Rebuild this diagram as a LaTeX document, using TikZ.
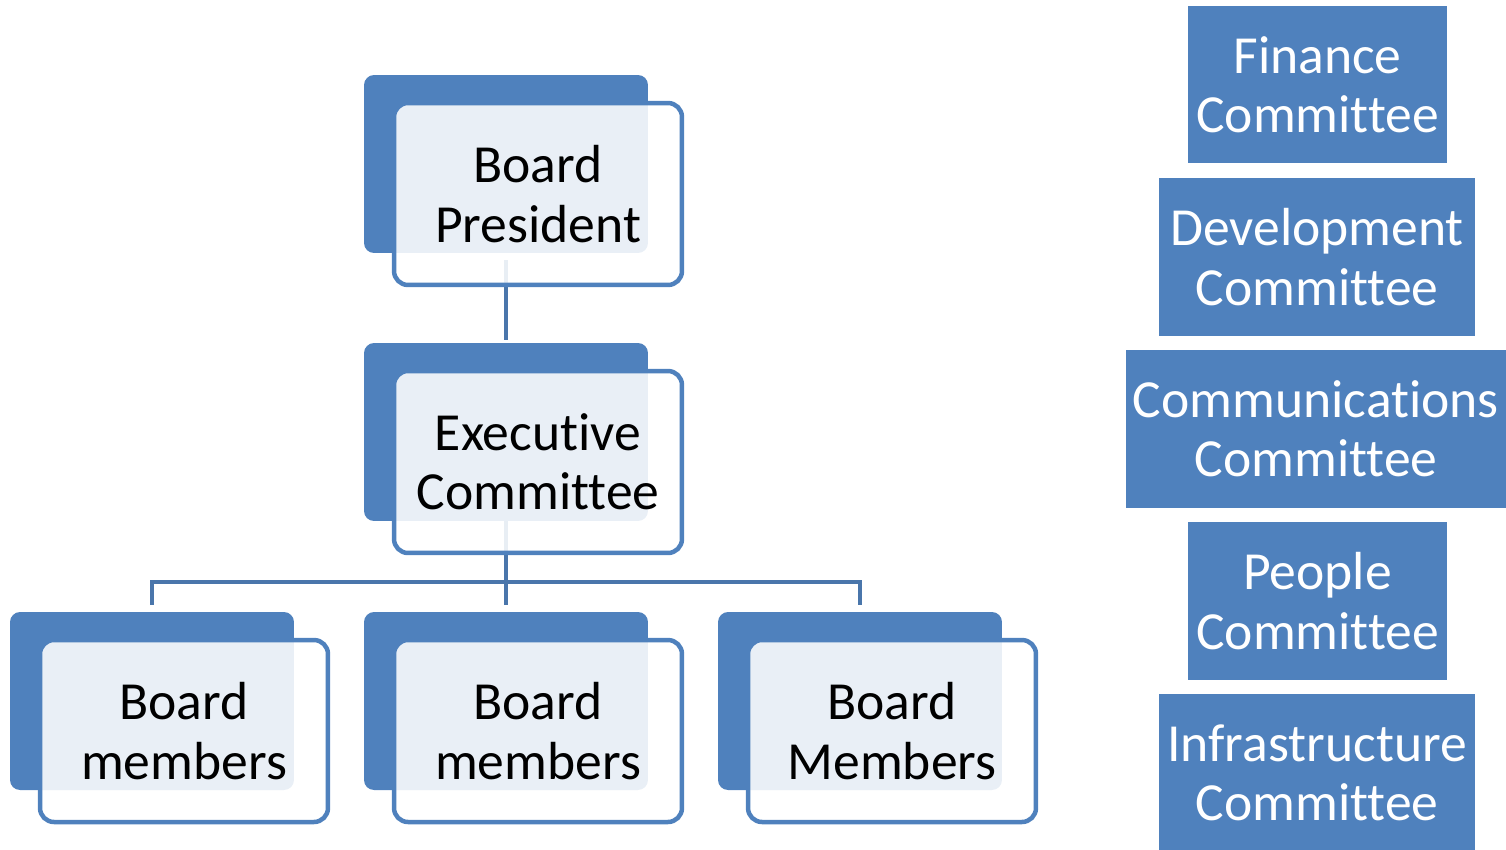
\documentclass[tikz,border=0pt]{standalone}
\usepackage{fontspec}
\setmainfont{Carlito}[Ligatures={NoCommon}]
\usetikzlibrary{positioning,calc}
\definecolor{boxblue}{HTML}{4F81BD}
\definecolor{linkblue}{HTML}{4A76AB}

\begin{document}
\begin{tikzpicture}[x=0.02cm,y=-0.02cm]
  \tikzset{back/.style={fill=boxblue,rounded corners=0.2cm,minimum width=5.68cm,minimum height=3.56cm,inner sep=0pt}}
  \tikzset{front/.style={draw=boxblue,line width=0.09cm,fill=white,fill opacity=0.88,text opacity=1,rounded corners=0.28cm,minimum width=5.76cm,minimum height=3.64cm,align=center,font=\fontsize{30.5}{33.8}\selectfont}}
  \tikzset{committee/.style={fill=boxblue,text=white,minimum height=3.16cm,align=center,inner sep=0pt,font=\fontsize{30.5}{33.8}\selectfont}}
  \tikzset{link/.style={draw=linkblue,line width=0.09cm}}
  \useasboundingbox (0,0) rectangle (1506,849);
  % back boxes
  \coordinate (bus) at (506,582);
  \node[back] (pres back) at (506,164) {};
  \node[back] (exec back) at (506,432) {};
  \foreach \i/\x in {1/152,2/506,3/860}
    \node[back] (mem back\i) at (\x,701) {};
  % connectors
  \draw[link,shorten <=0.14cm,shorten >=0.06cm] (pres back.south) -- (exec back.north);
  \draw[link,shorten >=0.14cm] (exec back.south) -- (mem back2.north);
  \draw[link,shorten <=0.14cm,shorten >=0.14cm] (mem back1.north) |- (bus) -| (mem back3.north);
  % front boxes
  \node[front] (pres) at (538,194) {Board\\President};
  \node[front] (exec) at (538,462) {Executive\\Committee};
  \node[front] (mem1) at (184,731) {Board\\members};
  \node[front] (mem2) at (538,731) {Board\\members};
  \node[front] (mem3) at (892,731) {Board\\Members};
  % committees on the right
  \node[committee,minimum width=5.18cm] (finance) at (1317.5,84.5) {Finance\\Committee};
  \node[committee,minimum width=6.32cm] (develop) at (1317,257) {Development\\Committee};
  \node[committee,minimum width=7.6cm] (comms) at (1316,429) {Communications\\Committee};
  \node[committee,minimum width=5.18cm] (people) at (1317.5,601) {People\\Committee};
  \node[committee,minimum width=6.32cm] (infra) at (1317,773) {Infrastructure\\Committee};
\end{tikzpicture}
\end{document}
